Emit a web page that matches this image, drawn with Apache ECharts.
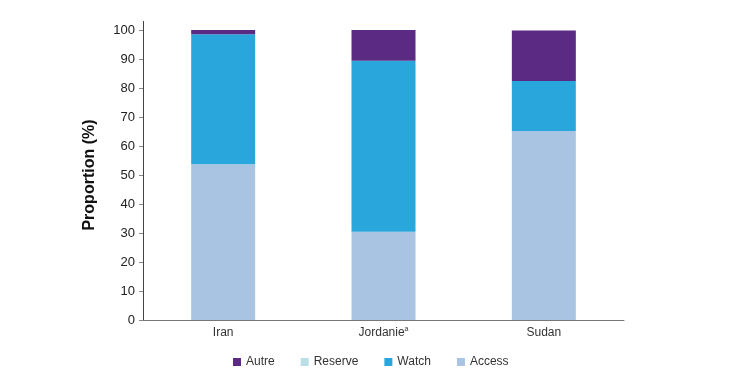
<!DOCTYPE html>
<html>
<head>
<meta charset="utf-8">
<script src="https://cdn.jsdelivr.net/npm/echarts@6/dist/echarts.min.js"></script>
<style>
  html, body { margin: 0; padding: 0; background: #fff; }
  #container { width: 744px; height: 375px; }
</style>
</head>
<body>
<div id="container"></div>
<script>
// countries on the x axis
const countries = ["Iran", "Jordanie", "Sudan"];
// superscript note after a country name
const notes = ["", "a", ""];
// proportions (%) per category, stacked bottom to top
const access = [53.7, 30.4, 65.2];
const reserve = [0, 0, 0];
const watch = [44.8, 59.0, 17.2];
const autre = [1.5, 10.6, 17.4];
const yTicks = [0, 10, 20, 30, 40, 50, 60, 70, 80, 90, 100];

const font = "'Liberation Sans Narrow', 'Arial Narrow', 'Liberation Sans', sans-serif";

let myChart = echarts.init(document.getElementById("container"));

function bar(name, data, color) {
    return {
        name: name,
        type: "bar",
        stack: "total",
        data: data,
        barWidth: 64,
        itemStyle: { color: color },
        emphasis: { disabled: true }
    };
}

let option = {
    animation: false,
    textStyle: { fontFamily: font },
    grid: { left: 143, right: 120, top: 30, bottom: 55 },
    legend: {
        bottom: 2,
        left: 228,
        itemWidth: 8,
        itemHeight: 8,
        itemGap: 26,
        icon: "rect",
        data: ["Autre", "Reserve", "Watch", "Access"],
        textStyle: { fontFamily: font, fontSize: 12, color: "#333" }
    },
    xAxis: {
        type: "category",
        data: countries,
        axisLine: { lineStyle: { color: "#777", width: 1 } },
        axisTick: { show: false },
        axisLabel: {
            fontFamily: font, fontSize: 12, color: "#333", margin: 6,
            formatter: function (v, i) {
                let n = notes[countries.indexOf(v)];
                return "{n|" + v + "}" + (n ? "{s|" + n + "}" : "");
            },
            rich: {
                n: { fontSize: 12, lineHeight: 14, fontFamily: font, color: "#333" },
                s: { fontSize: 7, lineHeight: 14, verticalAlign: "top", fontFamily: font, color: "#333" }
            }
        }
    },
    yAxis: {
        type: "value",
        min: yTicks[0],
        max: yTicks[yTicks.length - 1],
        interval: 10,
        name: "Proportion (%)",
        nameLocation: "middle",
        nameGap: 45,
        nameTextStyle: { fontFamily: font, fontSize: 16, fontWeight: "bold", color: "#111" },
        axisLine: { show: true, lineStyle: { color: "#444", width: 1 } },
        axisTick: { show: true, length: 4, lineStyle: { color: "#888" } },
        splitLine: { show: false },
        axisLabel: { fontFamily: font, fontSize: 13, color: "#222", margin: 8 }
    },
    series: [
        bar("Access", access, "#a8c4e2"),
        bar("Reserve", reserve, "#b9e0e6"),
        bar("Watch", watch, "#29a6dc"),
        bar("Autre", autre, "#5b2a82")
    ],
    graphic: [{
        // short extension of the y axis line above 100, as in the source
        type: "line",
        shape: { x1: 143.5, y1: 21, x2: 143.5, y2: 30 },
        style: { stroke: "#444", lineWidth: 1 },
        silent: true
    }]
};
myChart.setOption(option);
</script>
</body>
</html>
